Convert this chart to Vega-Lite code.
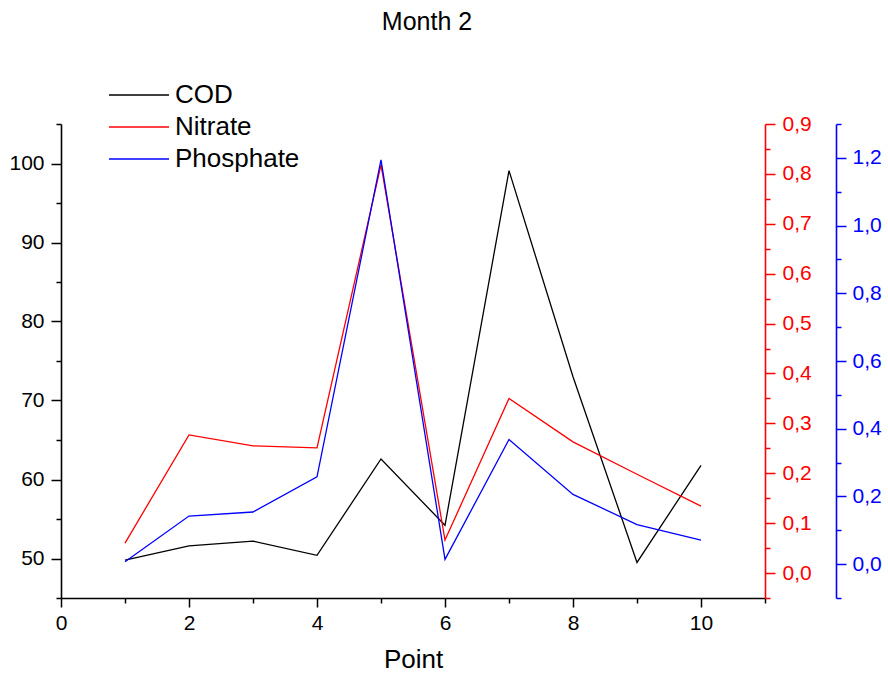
{
  "$schema": "https://vega.github.io/schema/vega-lite/v6.json",
  "width": 704,
  "height": 474,
  "autosize": {"type": "none"},
  "padding": {"left": 61, "top": 124, "right": 123, "bottom": 83},
  "background": "white",
  "config": {
    "view": {"stroke": null},
    "font": "Liberation Sans",
    "axis": {
      "grid": false,
      "domainWidth": 1.6,
      "tickWidth": 1.5,
      "labelFontSize": 21,
      "labelFont": "Liberation Sans",
      "titleFont": "Liberation Sans",
      "labelPadding": 5,
      "labelFlush": false
    }
  },
  "title": {
    "text": "Month 2",
    "fontSize": 25,
    "fontWeight": "normal",
    "font": "Liberation Sans",
    "color": "black",
    "anchor": "middle",
    "dx": 14,
    "offset": 47
  },
  "data": {
    "values": [
      {"point": 1, "series": "COD", "value": 49.8},
      {"point": 2, "series": "COD", "value": 51.6},
      {"point": 3, "series": "COD", "value": 52.2},
      {"point": 4, "series": "COD", "value": 50.4},
      {"point": 5, "series": "COD", "value": 62.6},
      {"point": 6, "series": "COD", "value": 54.2},
      {"point": 7, "series": "COD", "value": 99.1},
      {"point": 8, "series": "COD", "value": 73.0},
      {"point": 9, "series": "COD", "value": 49.5},
      {"point": 10, "series": "COD", "value": 61.8},
      {"point": 1, "series": "Nitrate", "value": 0.06},
      {"point": 2, "series": "Nitrate", "value": 0.277},
      {"point": 3, "series": "Nitrate", "value": 0.255},
      {"point": 4, "series": "Nitrate", "value": 0.251},
      {"point": 5, "series": "Nitrate", "value": 0.818},
      {"point": 6, "series": "Nitrate", "value": 0.066},
      {"point": 7, "series": "Nitrate", "value": 0.35},
      {"point": 8, "series": "Nitrate", "value": 0.263},
      {"point": 9, "series": "Nitrate", "value": 0.198},
      {"point": 10, "series": "Nitrate", "value": 0.134},
      {"point": 1, "series": "Phosphate", "value": 0.007},
      {"point": 2, "series": "Phosphate", "value": 0.142},
      {"point": 3, "series": "Phosphate", "value": 0.154},
      {"point": 4, "series": "Phosphate", "value": 0.258},
      {"point": 5, "series": "Phosphate", "value": 1.194},
      {"point": 6, "series": "Phosphate", "value": 0.014},
      {"point": 7, "series": "Phosphate", "value": 0.368},
      {"point": 8, "series": "Phosphate", "value": 0.206},
      {"point": 9, "series": "Phosphate", "value": 0.117},
      {"point": 10, "series": "Phosphate", "value": 0.071}
    ]
  },
  "encoding": {
    "x": {
      "field": "point",
      "type": "quantitative",
      "scale": {"domain": [0, 11], "nice": false, "zero": false},
      "axis": {
        "title": "Point",
        "titleFontSize": 26,
        "titleFontWeight": "normal",
        "titleColor": "black",
        "titlePadding": 13,
        "values": [0, 1, 2, 3, 4, 5, 6, 7, 8, 9, 10, 11],
        "labelExpr": "datum.value % 2 === 0 && datum.value <= 10 ? datum.label : ''",
        "tickSize": {"condition": {"test": "datum.value % 2 === 0 && datum.value <= 10", "value": 9}, "value": 5},
        "domainColor": "black",
        "tickColor": "black",
        "labelColor": "black"
      }
    },
    "color": {
      "field": "series",
      "type": "nominal",
      "scale": {"domain": ["COD", "Nitrate", "Phosphate"], "range": ["#000000", "#ff0000", "#0000ff"]},
      "legend": {
        "title": null,
        "orient": "none",
        "legendX": 65,
        "legendY": -42,
        "symbolType": "M-3,0H3",
        "symbolSize": 400,
        "symbolStrokeWidth": 1.3,
        "labelFontSize": 26,
        "labelFont": "Liberation Sans",
        "labelColor": "black",
        "labelOffset": 23,
        "rowPadding": 6
      }
    }
  },
  "layer": [
    {
      "transform": [{"filter": "datum.series === 'COD'"}],
      "mark": {"type": "line", "strokeWidth": 1.3},
      "encoding": {
        "y": {
          "field": "value",
          "type": "quantitative",
          "scale": {"domain": [45, 105], "nice": false, "zero": false},
          "axis": {
            "title": null,
            "orient": "left",
            "values": [45, 50, 55, 60, 65, 70, 75, 80, 85, 90, 95, 100, 105],
            "labelExpr": "datum.value % 10 === 0 ? datum.label : ''",
            "tickSize": {"condition": {"test": "datum.value % 10 === 0", "value": 10}, "value": 5},
            "domainColor": "black",
            "tickColor": "black",
            "labelColor": "black",
            "labelPadding": 7
          }
        }
      }
    },
    {
      "transform": [{"filter": "datum.series === 'Nitrate'"}],
      "mark": {"type": "line", "strokeWidth": 1.3},
      "encoding": {
        "y": {
          "field": "value",
          "type": "quantitative",
          "scale": {"domain": [-0.05, 0.9], "nice": false, "zero": false},
          "axis": {
            "title": null,
            "orient": "right",
            "values": [-0.05, 0, 0.05, 0.1, 0.15, 0.2, 0.25, 0.3, 0.35, 0.4, 0.45, 0.5, 0.55, 0.6, 0.65, 0.7, 0.75, 0.8, 0.85, 0.9],
            "labelExpr": "abs(round(datum.value * 100)) % 10 === 0 ? replace(format(datum.value, '.1f'), '.', ',') : ''",
            "tickSize": {"condition": {"test": "abs(round(datum.value * 100)) % 10 === 0", "value": 10}, "value": 5},
            "domainColor": "#ff0000",
            "tickColor": "#ff0000",
            "labelColor": "#ff0000",
            "labelPadding": 7
          }
        }
      }
    },
    {
      "transform": [{"filter": "datum.series === 'Phosphate'"}],
      "mark": {"type": "line", "strokeWidth": 1.3},
      "encoding": {
        "y": {
          "field": "value",
          "type": "quantitative",
          "scale": {"domain": [-0.1, 1.3], "nice": false, "zero": false},
          "axis": {
            "title": null,
            "orient": "right",
            "offset": 71,
            "values": [-0.1, 0, 0.1, 0.2, 0.3, 0.4, 0.5, 0.6, 0.7, 0.8, 0.9, 1.0, 1.1, 1.2, 1.3],
            "labelExpr": "abs(round(datum.value * 10)) % 2 === 0 ? replace(format(datum.value, '.1f'), '.', ',') : ''",
            "tickSize": {"condition": {"test": "abs(round(datum.value * 10)) % 2 === 0", "value": 10}, "value": 5},
            "domainColor": "#0000ff",
            "tickColor": "#0000ff",
            "labelColor": "#0000ff",
            "labelPadding": 6
          }
        }
      }
    }
  ],
  "resolve": {"scale": {"y": "independent"}}
}
